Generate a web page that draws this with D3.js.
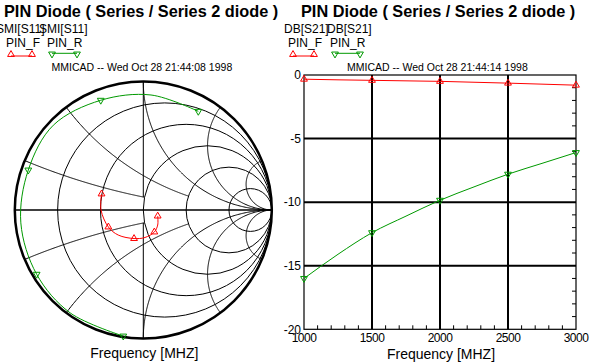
<!DOCTYPE html>
<html><head><meta charset="utf-8">
<script src="https://cdn.jsdelivr.net/npm/d3@7"></script>
<style>
html,body{margin:0;padding:0;background:#fff;}
svg{display:block;}
text{font-family:"Liberation Sans",Arial,sans-serif;fill:#000;}
</style></head><body>
<div id="chart"></div>
<script>
// ── Data ─────────────────────────────────────────────────────────────────────
var freqs       = [1000, 1250, 1500, 1750, 2000, 2250, 2500, 2750, 3000];
var markerFreqs = [1000, 1500, 2000, 2500, 3000];

// S11 (Smith chart), reflection coefficient re / im
var s11F_re = [0.112, 0.112, 0.086, 0.013, -0.072, -0.195, -0.272, -0.329, -0.325];
var s11F_im = [-0.047, -0.117, -0.171, -0.214, -0.222, -0.195, -0.132, 0.000, 0.125];
var s11R_re = [-0.156, -0.570, -0.830, -0.953, -0.895, -0.700, -0.331, 0.060, 0.428];
var s11R_im = [-0.981, -0.800, -0.500, -0.100, 0.311, 0.660, 0.854, 0.895, 0.768];

// S21 in dB
var s21F_db = [-0.33, -0.38, -0.42, -0.46, -0.50, -0.57, -0.64, -0.72, -0.80];
var s21R_db = [-16.0, -14.1, -12.4, -11.1, -9.85, -8.8, -7.8, -6.95, -6.1];

var xTicks = [1000, 1500, 2000, 2500, 3000];
var yTicks = [0, -5, -10, -15, -20];

// Smith grid
var gridR    = [0.2, 0.5, 1, 2, 5];
var gridX    = [0.2, 0.5, 1, 2, 5];
var gridXmax = [1, 2, Infinity, Infinity, Infinity];   // r where each x arc stops

var TITLE = 'PIN Diode ( Series / Series 2 diode )';
var RED = '#ff0000', GREEN = '#009900';

var W = 590, H = 364;
var svg = d3.select('#chart').append('svg').attr('width', W).attr('height', H);

var triUp   = d3.symbol().type(d3.symbolTriangle).size(20);

function marker(g, x, y, color, down) {
  g.append('path').attr('d', triUp())
    .attr('transform', 'translate(' + x + ',' + y + ')' + (down ? ' rotate(180)' : ''))
    .attr('fill', 'none').attr('stroke', color).attr('stroke-width', 1);
}

function header(x0, labelA, labelB, aX, bX, fX, rX, stamp, stampX) {
  svg.append('text').attr('x', x0).attr('y', 17)
    .attr('font-size', '16.3px').attr('font-weight', 'bold').text(TITLE);
  svg.append('text').attr('x', aX).attr('y', 33).attr('font-size', '12px').text(labelA);
  svg.append('text').attr('x', bX).attr('y', 33).attr('font-size', '12px').text(labelB);
  svg.append('text').attr('x', fX).attr('y', 47).attr('font-size', '12px').text('PIN_F');
  svg.append('text').attr('x', rX).attr('y', 47).attr('font-size', '12px').text('PIN_R');
  var lg = svg.append('g');
  lg.append('line').attr('x1', fX + 5).attr('x2', fX + 26).attr('y1', 56).attr('y2', 56)
    .attr('stroke', RED);
  marker(lg, fX + 5, 54.5, RED, false);
  marker(lg, fX + 26, 54.5, RED, false);
  lg.append('line').attr('x1', rX + 5).attr('x2', rX + 30).attr('y1', 53.3).attr('y2', 53.3)
    .attr('stroke', GREEN);
  marker(lg, rX + 5, 54, GREEN, true);
  marker(lg, rX + 30, 54, GREEN, true);
  svg.append('text').attr('x', stampX).attr('y', 70.7).attr('font-size', '10.5px').text(stamp);
}

// ── Left: Smith chart ────────────────────────────────────────────────────────
(function() {
  header(4, 'SMI[S11]', 'SMI[S11]', -4, 39, 6, 47, 'MMICAD -- Wed Oct 28 21:44:08 1998', 51.5);

  var cx = 143.3, cy = 210, R = 128.5;
  var gx = d3.scaleLinear().domain([-1, 1]).range([cx - R, cx + R]);
  var gy = d3.scaleLinear().domain([-1, 1]).range([cy + R, cy - R]);

  function gamma(r, x) {
    // (z-1)/(z+1)
    var a = r - 1, b = x, c = r + 1, d = x, den = c * c + d * d;
    return [(a * c + b * d) / den, (b * c - a * d) / den];
  }
  var pline = d3.line().x(function(p) { return gx(p[0]); }).y(function(p) { return gy(p[1]); });

  var grid = svg.append('g').attr('fill', 'none').attr('stroke', '#000').attr('stroke-width', 1);

  gridR.forEach(function(r) {
    grid.append('circle').attr('cx', gx(r / (1 + r))).attr('cy', gy(0))
      .attr('r', gx(1 / (1 + r)) - gx(0));
  });

  gridX.forEach(function(x, i) {
    var rMax = gridXmax[i];
    [x, -x].forEach(function(xx) {
      var pts = d3.range(0, 201).map(function(k) {
        var s = k / 200;
        var r = isFinite(rMax) ? s * rMax : (s < 1 ? s / (1 - s) : 1e6);
        return gamma(r, xx);
      });
      grid.append('path').attr('d', pline(pts));
    });
  });

  // imaginary-axis segments
  grid.append('path').attr('d', pline([[0, 1], [0, 0.1]]));
  grid.append('path').attr('d', pline([[0, -0.1], [0, -1]]));

  // real axis
  grid.append('path').attr('d', pline([[-1, 0], [1, 0]])).attr('stroke-width', 1.5);

  // outer circle
  svg.append('circle').attr('cx', cx).attr('cy', cy).attr('r', R)
    .attr('fill', 'none').attr('stroke', '#000').attr('stroke-width', 2.5);

  function trace(re, im, color, down) {
    var pts = freqs.map(function(f, i) { return [re[i], im[i]]; });
    svg.append('path').attr('d', pline.curve(d3.curveCatmullRom)(pts))
      .attr('fill', 'none').attr('stroke', color).attr('stroke-width', 1);
    pline.curve(d3.curveLinear);
    var mg = svg.append('g');
    markerFreqs.forEach(function(f) {
      var i = freqs.indexOf(f);
      marker(mg, gx(re[i]), gy(im[i]), color, down);
    });
  }
  trace(s11F_re, s11F_im, RED, false);
  trace(s11R_re, s11R_im, GREEN, true);

  svg.append('text').attr('x', cx + 1).attr('y', 358).attr('text-anchor', 'middle')
    .attr('font-size', '14px').text('Frequency [MHZ]');
})();

// ── Right: S21 rectangular plot ──────────────────────────────────────────────
(function() {
  header(301, 'DB[S21]', 'DB[S21]', 284, 327, 288, 330, 'MMICAD -- Wed Oct 28 21:44:14 1998', 347);

  var x = d3.scaleLinear().domain([1000, 3000]).range([304, 576]);
  var y = d3.scaleLinear().domain([-20, 0]).range([329.3, 75]);

  var g = svg.append('g');

  // minor ticks
  d3.range(1100, 3000, 100).filter(function(f) { return f % 500; }).forEach(function(f) {
    g.append('line').attr('x1', x(f)).attr('x2', x(f)).attr('y1', y(-20)).attr('y2', y(-20) - 4)
      .attr('stroke', '#000');
  });
  d3.range(-19, 0, 1).filter(function(v) { return v % 5; }).forEach(function(v) {
    g.append('line').attr('x1', x(3000)).attr('x2', x(3000) - 4).attr('y1', y(v)).attr('y2', y(v))
      .attr('stroke', '#000');
  });

  // grid
  xTicks.slice(1, -1).forEach(function(f) {
    g.append('line').attr('x1', x(f)).attr('x2', x(f)).attr('y1', y(0)).attr('y2', y(-20))
      .attr('stroke', '#000').attr('stroke-width', 2);
  });
  yTicks.slice(1, -1).forEach(function(v) {
    g.append('line').attr('x1', x(1000)).attr('x2', x(3000)).attr('y1', y(v)).attr('y2', y(v))
      .attr('stroke', '#000').attr('stroke-width', 2);
  });
  g.append('rect').attr('x', x(1000)).attr('y', y(0))
    .attr('width', x(3000) - x(1000)).attr('height', y(-20) - y(0))
    .attr('fill', 'none').attr('stroke', '#000').attr('stroke-width', 1.2);

  // tick labels
  yTicks.forEach(function(v) {
    g.append('text').attr('x', 301).attr('y', y(v)).attr('dy', '0.35em')
      .attr('text-anchor', 'end').attr('font-size', '12px').text(v);
  });
  xTicks.forEach(function(f) {
    g.append('text').attr('x', x(f)).attr('y', 342).attr('text-anchor', 'middle')
      .attr('font-size', '12px').attr('letter-spacing', '-0.5px').text(f);
  });
  g.append('text').attr('x', 441).attr('y', 359).attr('text-anchor', 'middle')
    .attr('font-size', '14px').text('Frequency [MHZ]');

  function trace(vals, color, down) {
    var line = d3.line().x(function(d, i) { return x(freqs[i]); }).y(function(d) { return y(d); })
      .curve(d3.curveMonotoneX);
    g.append('path').attr('d', line(vals)).attr('fill', 'none')
      .attr('stroke', color).attr('stroke-width', 1);
    markerFreqs.forEach(function(f) {
      var i = freqs.indexOf(f);
      marker(g, x(f), y(vals[i]), color, down);
    });
  }
  trace(s21F_db, RED, false);
  trace(s21R_db, GREEN, true);
})();
</script>
</body></html>
